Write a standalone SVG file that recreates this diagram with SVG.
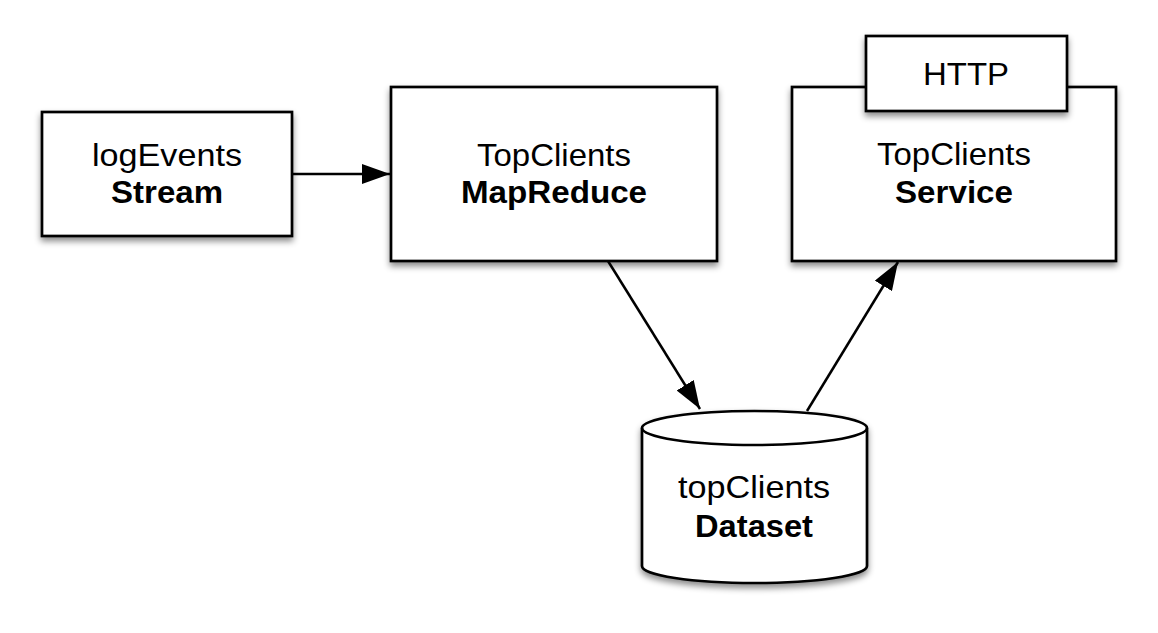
<svg xmlns="http://www.w3.org/2000/svg" width="1158" height="633" viewBox="0 0 1158 633">
<style>
.box{fill:#fff;stroke:#000;stroke-width:2.7}
.t{font-family:"Liberation Sans",Arial,sans-serif;font-size:32px;fill:#000;text-anchor:middle}
.b{font-weight:bold}
.c{stroke:#000;stroke-width:2.5;fill:none}
</style>
<defs>
<filter id="sh" x="-10%" y="-10%" width="120%" height="130%">
<feDropShadow dx="0" dy="4" stdDeviation="3" flood-color="#000" flood-opacity="0.45"/>
</filter>
<marker id="ah" viewBox="0 0 28 20" refX="28" refY="10" markerWidth="28" markerHeight="20" markerUnits="userSpaceOnUse" orient="auto">
<path d="M0,0 L28,10 L0,20 Z" fill="#000"/>
</marker>
</defs>
<g id="connectors">
<line class="c" x1="292" y1="174" x2="390" y2="174" marker-end="url(#ah)"/>
<line class="c" x1="608" y1="261" x2="700" y2="409" marker-end="url(#ah)"/>
<line class="c" x1="807" y1="411" x2="898" y2="262" marker-end="url(#ah)"/>
</g>
<g id="logEvents">
<rect class="box" x="42" y="112" width="250" height="124" filter="url(#sh)"/>
<text class="t" x="167" y="166" textLength="150" lengthAdjust="spacingAndGlyphs">logEvents</text>
<text class="t b" x="167" y="203" textLength="112" lengthAdjust="spacingAndGlyphs">Stream</text>
</g>
<g id="mapreduce">
<rect class="box" x="391" y="87" width="326" height="174" filter="url(#sh)"/>
<text class="t" x="554" y="166" textLength="154" lengthAdjust="spacingAndGlyphs">TopClients</text>
<text class="t b" x="554" y="203" textLength="186" lengthAdjust="spacingAndGlyphs">MapReduce</text>
</g>
<g id="service">
<rect class="box" x="792" y="87" width="324" height="174" filter="url(#sh)"/>
<text class="t" x="954" y="165" textLength="154" lengthAdjust="spacingAndGlyphs">TopClients</text>
<text class="t b" x="954" y="203" textLength="118" lengthAdjust="spacingAndGlyphs">Service</text>
</g>
<g id="http">
<rect class="box" x="866" y="36" width="201" height="75" filter="url(#sh)"/>
<text class="t" x="966" y="85" textLength="86" lengthAdjust="spacingAndGlyphs">HTTP</text>
</g>
<g id="dataset">
<path class="box" filter="url(#sh)" d="M642,428 L642,566 A112.5,17 0 0 0 867,566 L867,428 A112.5,17 0 0 0 642,428 Z"/>
<path class="c" d="M642,428 A112.5,17 0 0 0 867,428"/>
<text class="t" x="754" y="498" textLength="152" lengthAdjust="spacingAndGlyphs">topClients</text>
<text class="t b" x="754" y="537" textLength="118" lengthAdjust="spacingAndGlyphs">Dataset</text>
</g>
</svg>
